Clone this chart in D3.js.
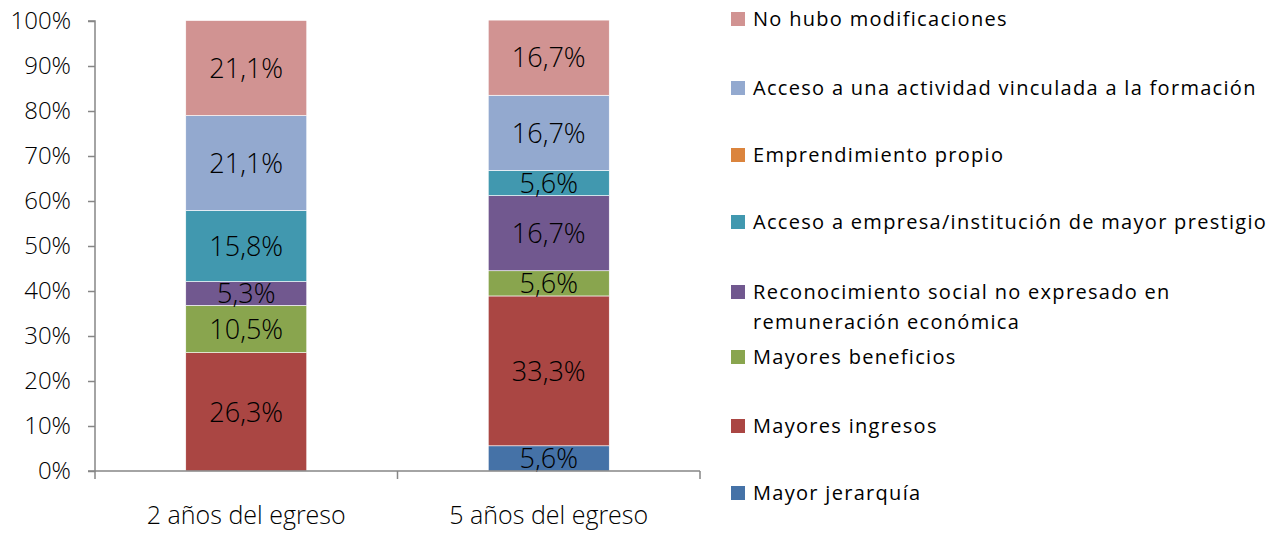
<!DOCTYPE html>
<html><head><meta charset="utf-8">
<script src="https://cdn.jsdelivr.net/npm/d3@7"></script>
<style>body{margin:0;background:#fff}svg{display:block}text{font-family:"Open Sans",sans-serif;fill:#000}</style>
</head><body><svg id="c" width="1284" height="533"></svg>
<script>
const categories = ["2 años del egreso", "5 años del egreso"];
const seriesNames = ["Mayor jerarquía","Mayores ingresos","Mayores beneficios","Reconocimiento social no expresado en remuneración económica","Acceso a empresa/institución de mayor prestigio","Emprendimiento propio","Acceso a una actividad vinculada a la formación","No hubo modificaciones"];
const valuesY2 = [0, 26.3, 10.5, 5.3, 15.8, 0, 21.1, 21.1];
const valuesY5 = [5.6, 33.3, 5.6, 16.7, 5.6, 0, 16.7, 16.7];
const seriesColors = ["#4572A7","#AA4643","#89A54E","#71588F","#4198AF","#DB843D","#93A9CF","#D19392"];
const yTicks = [0,10,20,30,40,50,60,70,80,90,100];
const legendLines = {3:["Reconocimiento social no expresado en","remuneración económica"]};

const svg = d3.select("#c");
const L=95,R=700,T=21,B=471;
const x = d3.scaleBand().domain(categories).range([L,R]).paddingInner(0.6).paddingOuter(0.3);
const y = d3.scaleLinear().domain([0,100]).range([B,T]);
const axisColor="#868686";

const rows = categories.map((c,i)=>{const v=i?valuesY5:valuesY2; const o={cat:c}; seriesNames.forEach((s,j)=>o[s]=v[j]); return o;});
const stack = d3.stack().keys(seriesNames)(rows);

const g = svg.append("g");
stack.forEach((layer,j)=>{
  layer.forEach(d=>{
    const v=d[1]-d[0]; if(v<=0) return;
    g.append("rect").attr("x",x(d.data.cat)).attr("width",x.bandwidth())
     .attr("y",y(Math.min(d[1],100.2))).attr("height",y(d[0])-y(Math.min(d[1],100.2)))
     .attr("fill",seriesColors[j]).attr("stroke","#fff").attr("stroke-width",0.6);
  });
});
stack.forEach((layer,j)=>{
  layer.forEach(d=>{
    const v=d[1]-d[0]; if(v<=0) return;
    g.append("text").attr("x",x(d.data.cat)+x.bandwidth()/2).attr("y",(y(d[0])+y(d[1]))/2)
     .attr("text-anchor","middle").attr("dy","0.36em").style("font-size","27px").style("font-weight","300")
     .text(d3.format(".1f")(v).replace(".",",")+"%");
  });
});

// y axis
const ya = svg.append("g").attr("transform",`translate(${L},0)`)
  .call(d3.axisLeft(y).tickValues(yTicks).tickSize(7).tickPadding(17).tickFormat(d=>d+"%"));
ya.select(".domain").attr("stroke",axisColor).attr("stroke-width",1.5).attr("d",`M-7,${B}H0V${T}H-7`);
ya.selectAll(".tick line").attr("stroke",axisColor).attr("stroke-width",1.5);
ya.selectAll(".tick text").style("font-size","24px").style("font-weight","300").style("font-family","'Open Sans',sans-serif").attr("fill","#000");

// x axis
const xa = svg.append("g");
xa.append("line").attr("x1",L).attr("x2",R).attr("y1",B).attr("y2",B).attr("stroke",axisColor).attr("stroke-width",1.5);
const step = x.step();
d3.range(categories.length+1).forEach(i=>{
  const xx = L + i*step;
  xa.append("line").attr("x1",xx).attr("x2",xx).attr("y1",B).attr("y2",B+8).attr("stroke",axisColor).attr("stroke-width",1.5);
});
categories.forEach(c=>{
  xa.append("text").attr("x",x(c)+x.bandwidth()/2).attr("y",524).attr("text-anchor","middle").style("font-size","25px").style("font-weight","300").text(c);
});

// legend
const legendY = [19,88,155,222,292,357,426,493];
const order = [7,6,5,4,3,2,1,0];
const lg = svg.append("g");
order.forEach((j,k)=>{
  const yy = legendY[k];
  lg.append("rect").attr("x",731).attr("y",yy-7).attr("width",14).attr("height",14).attr("fill",seriesColors[j]);
  const lines = legendLines[j] || [seriesNames[j]];
  lines.forEach((t,li)=>{
    lg.append("text").attr("x",753).attr("y",yy+li*30).attr("dy","0.36em").style("font-size","20px").style("letter-spacing","1.3px").text(t);
  });
});
</script></body></html>
